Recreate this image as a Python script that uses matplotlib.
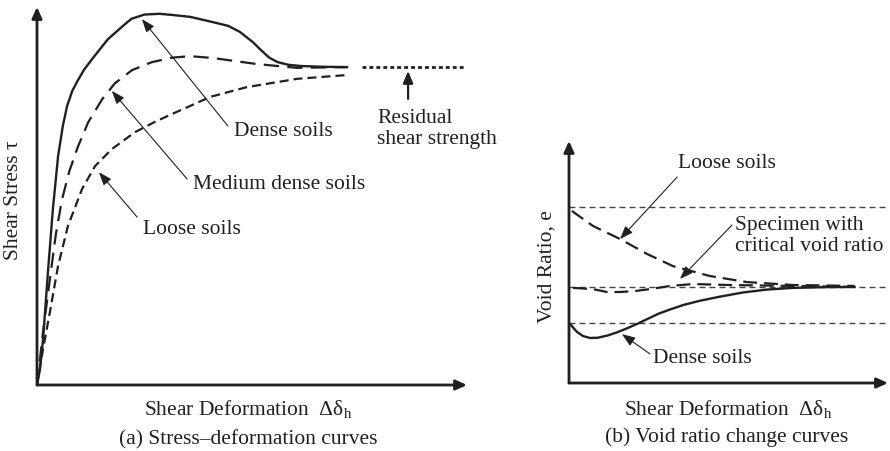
import matplotlib
matplotlib.use("Agg")
import matplotlib.pyplot as plt

plt.rcParams['font.family'] = ['Liberation Serif', 'DejaVu Serif']
plt.rcParams['mathtext.fontset'] = 'custom'
plt.rcParams['mathtext.rm'] = 'Liberation Serif'
plt.rcParams['lines.scale_dashes'] = False

INK = '#231f20'
FS = 15.5

# ---------------- data: panel (a) stress-deformation ----------------
dense_x = [0, 0.7, 1.4, 2.6, 3.7, 4.9, 6.0, 7.0, 8.2, 9.5, 11.0, 12.8, 16.5, 20.5, 22.0, 25.0,
           28.5, 31.4, 35.6, 40.9, 44.5, 47.2, 50.2, 52.0, 54.0, 56.0, 58.5, 61.2, 66.0, 72.1]
dense_y = [0, 4.2, 12.0, 30.7, 46.6, 60.5, 68.5, 73.8, 77.8, 80.6, 83.5, 86.2, 91.5, 95.5, 96.9, 98.0,
           98.2, 97.9, 97.4, 96.0, 95.0, 93.4, 90.7, 88.7, 86.6, 85.4, 84.7, 84.4, 84.2, 84.1]

medium_x = [0, 1.4, 3.0, 4.4, 5.8, 7.5, 9.5, 11.9, 15.1, 18.1, 22.1, 26.7, 31.4, 35.6, 40.9,
            51.2, 60.5, 72.1]
medium_y = [0, 14.0, 28.0, 40.0, 49.0, 56.5, 63.0, 69.5, 75.5, 79.8, 83.3, 85.4, 86.6, 87.0, 86.5,
            84.9, 83.9, 84.1]

loose_x = [0, 1.4, 3.0, 4.9, 7.2, 10.5, 13.5, 17.4, 22.8, 27.4, 31.4, 35.6, 40.2, 48.8, 60.5, 72.1]
loose_y = [0, 9.5, 19.3, 31.5, 42.1, 51.9, 57.9, 62.4, 66.9, 69.6, 71.7, 73.8, 76.2, 78.8, 81.0, 82.0]

residual_x = [75.6, 99.3]
residual_y = [84.1, 84.1]

# ---------------- data: panel (b) void ratio ----------------
ref_levels = [72.7, 39.7, 24.8]

vloose_x = [0.9, 7.5, 16.0, 24.5, 32.6, 44.2, 55.8, 70.2, 89.5]
vloose_y = [71.1, 64.9, 59.5, 53.3, 48.3, 44.2, 41.7, 40.5, 40.1]

vcrit_x = [1.3, 7.5, 11.9, 16.0, 20.7, 25.4, 31.7, 38.9, 49.5, 70.2, 89.5]
vcrit_y = [39.3, 38.8, 37.6, 37.6, 38.0, 38.8, 40.1, 40.9, 40.5, 40.1, 39.7]

vdense_x = [0.3, 2.5, 4.4, 6.6, 9.0, 12.0, 15.0, 18.2, 21.5, 24.5, 28.0, 31.7, 36.0, 41.1, 47.0,
            54.5, 62.0, 70.2, 80.0, 89.5]
vdense_y = [24.4, 21.1, 19.4, 18.6, 18.7, 19.6, 20.9, 22.6, 24.5, 26.4, 28.6, 30.4, 32.3, 34.0, 35.6,
            37.4, 38.6, 39.3, 39.6, 39.7]

W, H = 890, 452
fig = plt.figure(figsize=(W / 100, H / 100), dpi=100)


def px_axes(l, r, b, t):
    return fig.add_axes([l / W, 1 - b / H, (r - l) / W, (b - t) / H])


def draw_axes_arrows(ax):
    for sp in ax.spines.values():
        sp.set_visible(False)
    ax.set_xticks([])
    ax.set_yticks([])
    ax.set_xlim(0, 100)
    ax.set_ylim(0, 100)
    ax.patch.set_alpha(0)
    kw = dict(arrowstyle='-|>,head_length=0.55,head_width=0.25', lw=2.0, color=INK,
              mutation_scale=12, shrinkA=0, shrinkB=0)
    ax.annotate('', xy=(1, 0), xytext=(0, 0), xycoords='axes fraction', arrowprops=kw)
    ax.annotate('', xy=(0, 1), xytext=(0, 0), xycoords='axes fraction', arrowprops=kw)


def note(ax, text, tx, ty, hx, hy, lx, ly, **kw):
    ax.annotate('', xy=(hx, hy), xytext=(tx, ty),
                arrowprops=dict(arrowstyle='-|>,head_length=0.8,head_width=0.3', lw=0.8,
                                color=INK, mutation_scale=10, shrinkA=0, shrinkB=0),
                annotation_clip=False)
    ax.text(lx, ly, text, ha='left', va='center', fontsize=FS, color=INK,
            clip_on=False, linespacing=1.15, **kw)


# ---------------- panel (a) ----------------
ax1 = px_axes(37, 467, 386, 8)
draw_axes_arrows(ax1)
ax1.plot(dense_x, dense_y, color=INK, lw=1.7, solid_joinstyle='round')
ax1.plot(medium_x, medium_y, color=INK, lw=1.6, dashes=(11, 6))
ax1.plot(loose_x, loose_y, color=INK, lw=1.6, dashes=(6.5, 3.6))
ax1.plot(residual_x, residual_y, color=INK, lw=2.0, dashes=(2.8, 2.2))

ax1.annotate('', xy=(86.3, 83.1), xytext=(86.3, 75.7),
             arrowprops=dict(arrowstyle='-|>,head_length=0.6,head_width=0.25', lw=1.6, color=INK,
                             mutation_scale=12, shrinkA=0, shrinkB=0))
ax1.text(79.1, 68.0, 'Residual\nshear strength', ha='left', va='center', fontsize=FS,
         color=INK, linespacing=1.15, clip_on=False)

note(ax1, 'Dense soils', 44.4, 68.5, 24.4, 96.8, 45.8, 67.2)
note(ax1, 'Medium dense soils', 34.9, 54.5, 17.4, 77.8, 36.3, 53.4)
note(ax1, 'Loose soils', 23.3, 44.4, 14.4, 56.3, 24.7, 41.3)

fig.text(14 / W, 1 - 200 / H, 'Shear Stress τ', rotation=90, ha='center', va='center',
         fontsize=FS, color=INK)
fig.text(248 / W, 1 - 410 / H, 'Shear Deformation  Δδ$_\\mathrm{h}$', ha='center', va='center',
         fontsize=FS, color=INK)
fig.text(248 / W, 1 - 440 / H, '(a) Stress–deformation curves', ha='center', va='center',
         fontsize=FS, color=INK)

# ---------------- panel (b) ----------------
ax2 = px_axes(569, 888, 384, 142)
draw_axes_arrows(ax2)
for lev in ref_levels:
    ax2.axhline(lev, xmin=0, xmax=1, color='#444444', lw=1.0, dashes=(4.3, 2.9))
ax2.plot(vloose_x, vloose_y, color=INK, lw=1.6, dashes=(10, 5))
ax2.plot(vcrit_x, vcrit_y, color=INK, lw=1.6, dashes=(10, 5))
ax2.plot(vdense_x, vdense_y, color=INK, lw=1.7, solid_joinstyle='round')

note(ax2, 'Loose soils', 33.9, 85.1, 16.0, 59.5, 34.2, 91.3)
note(ax2, 'Specimen with\ncritical void ratio', 51.1, 65.3, 34.8, 43.0, 52.0, 61.0)
note(ax2, 'Dense soils', 25.4, 12.0, 16.6, 20.2, 26.3, 10.7)

fig.text(547 / W, 1 - 267 / H, 'Void Ratio, e', rotation=90, ha='center', va='center',
         fontsize=FS, color=INK)
fig.text(728 / W, 1 - 410 / H, 'Shear Deformation  Δδ$_\\mathrm{h}$', ha='center', va='center',
         fontsize=FS, color=INK)
fig.text(727 / W, 1 - 437 / H, '(b) Void ratio change curves', ha='center', va='center',
         fontsize=FS, color=INK)

fig.savefig('out.png', dpi=100)
